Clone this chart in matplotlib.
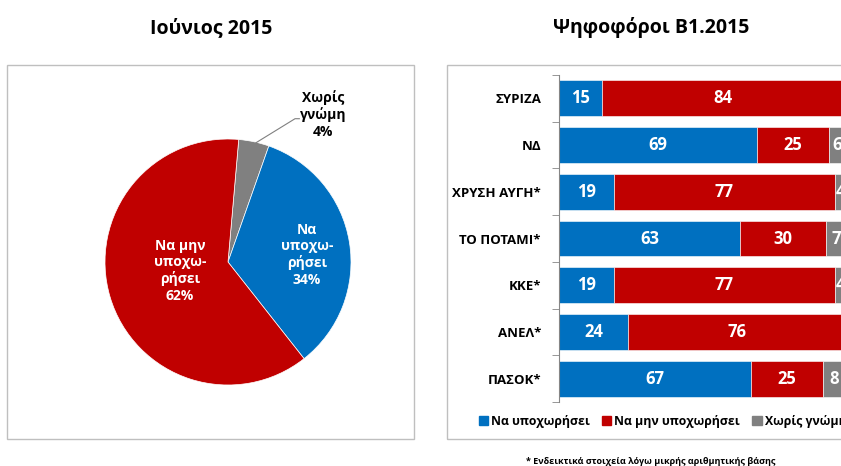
import matplotlib.pyplot as plt
from matplotlib.patches import Rectangle, Patch
import numpy as np

plt.rcParams['font.family'] = ['Open Sans', 'DejaVu Sans']

# Pie data (June 2015)
pie_labels = ["Χωρίς\nγνώμη\n4%", "Να\nυποχω-\nρήσει\n34%", "Να μην\nυποχω-\nρήσει\n62%"]
pie_values = [4, 34, 62]

# Bar data (voters by party)
parties = ["ΣΥΡΙΖΑ", "ΝΔ", "ΧΡΥΣΗ ΑΥΓΗ*", "ΤΟ ΠΟΤΑΜΙ*", "ΚΚΕ*", "ΑΝΕΛ*", "ΠΑΣΟΚ*"]
yes_vals = [15, 69, 19, 63, 19, 24, 67]
no_vals = [84, 25, 77, 30, 77, 76, 25]
dk_vals = [1, 6, 4, 7, 4, 0, 8]
series_names = ["Να υποχωρήσει", "Να μην υποχωρήσει", "Χωρίς γνώμη"]

BLUE = "#0070c0"
RED = "#c00000"
GREY = "#808080"

W, H = 841, 466
fig = plt.figure(figsize=(W / 100, H / 100), dpi=100)


def fx(px):
    return px / W


def fy(py):
    return 1 - py / H


# Frames around the two panels
fig.patches.append(Rectangle((fx(7), fy(439)), fx(414 - 7), (439 - 65) / H,
                             transform=fig.transFigure, fill=False,
                             edgecolor="#bfbfbf", lw=1))
fig.patches.append(Rectangle((fx(447), fy(439)), fx(860 - 447), (439 - 65) / H,
                             transform=fig.transFigure, fill=False,
                             edgecolor="#bfbfbf", lw=1))

# Titles
fig.text(fx(211), fy(28), "Ιούνιος 2015", ha="center", va="center",
         fontsize=14, fontweight="bold")
fig.text(fx(651), fy(28), "Ψηφοφόροι Β1.2015", ha="center", va="center",
         fontsize=14, fontweight="bold")

# Pie chart
r_px = 123
half = 1.5 * r_px
ax1 = fig.add_axes([fx(228 - half), fy(262 + half), 2 * half / W, 2 * half / H])
ax1.pie(pie_values, colors=[GREY, BLUE, RED], startangle=85, counterclock=False,
        radius=1, wedgeprops=dict(linewidth=0.5, edgecolor="white"))
ax1.set_xlim(-1.5, 1.5)
ax1.set_ylim(-1.5, 1.5)
ax1.set_aspect("equal")
ax1.axis("off")

ax1.text(0.64, 0.06, pie_labels[1], ha="center", va="center", color="white",
         fontsize=10, fontweight="bold", linespacing=1.2)
ax1.text(-0.39, -0.07, pie_labels[2], ha="center", va="center", color="white",
         fontsize=10, fontweight="bold", linespacing=1.2)
ax1.text(0.77, 1.20, pie_labels[0], ha="center", va="center", color="black",
         fontsize=10, fontweight="bold", linespacing=1.2)
ax1.plot([0.22, 0.545, 0.58], [0.965, 1.165, 1.165], color="#808080", lw=0.8)

# Stacked bar chart
left_px, right_px = 559, 846
top_px, bot_px = 75, 402
ax2 = fig.add_axes([fx(left_px), fy(bot_px), (right_px - left_px) / W,
                    (bot_px - top_px) / H])
y = np.arange(len(parties))
bh = 0.77
yes = np.array(yes_vals)
no = np.array(no_vals)
dk = np.array(dk_vals)
ax2.barh(y, yes, height=bh, color=BLUE, edgecolor="white", lw=0.4)
ax2.barh(y, no, left=yes, height=bh, color=RED, edgecolor="white", lw=0.4)
ax2.barh(y, dk, left=yes + no, height=bh, color=GREY, edgecolor="white", lw=0.4)

for i in range(len(parties)):
    starts = [0, yes[i], yes[i] + no[i]]
    for s, v in zip(starts, [yes[i], no[i], dk[i]]):
        if v > 0:
            ax2.text(s + v / 2, i, str(v), ha="center", va="center",
                     color="white", fontsize=12, fontweight="bold")

ax2.set_xlim(0, 100)
ax2.set_ylim(len(parties) - 0.5, -0.5)
ax2.set_yticks(y)
ax2.set_yticklabels(parties, fontsize=9.5, fontweight="bold")
ax2.tick_params(axis="y", which="major", length=0, pad=13)
ax2.set_yticks(np.arange(-0.5, len(parties)), minor=True)
ax2.tick_params(axis="y", which="minor", length=5, color="#868686")
ax2.set_xticks([])
for side in ["top", "right", "bottom"]:
    ax2.spines[side].set_visible(False)
ax2.spines["left"].set_color("#868686")
ax2.patch.set_alpha(0)

handles = [Patch(color=c) for c in [BLUE, RED, GREY]]
leg = fig.legend(handles, series_names, loc="center left",
                 bbox_to_anchor=(fx(474), fy(421)), ncol=3, frameon=False,
                 handlelength=0.75, handleheight=0.75, handletextpad=0.25,
                 columnspacing=1.0, borderaxespad=0,
                 prop=dict(size=8.8, weight="bold"))

fig.text(fx(651), fy(461), "* Ενδεικτικά στοιχεία λόγω μικρής αριθμητικής βάσης",
         ha="center", va="center", fontsize=6.5, fontweight="bold")

fig.savefig("out.png", dpi=100)
